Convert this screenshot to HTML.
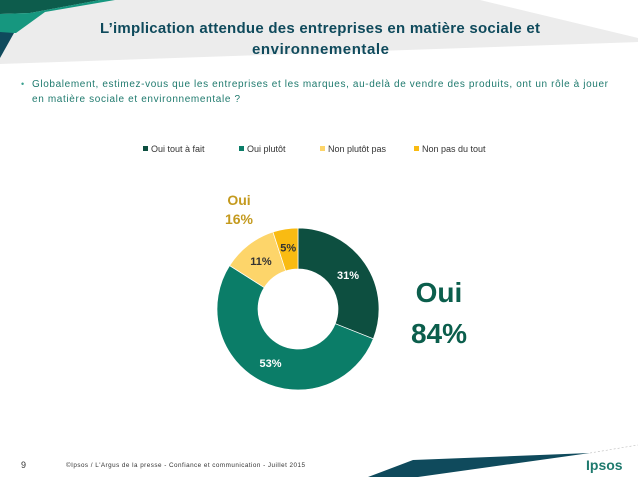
<!DOCTYPE html>
<html><head><meta charset="utf-8"><style>
body{margin:0;width:638px;height:479px;overflow:hidden;background:#fff;font-family:"Liberation Sans",sans-serif;}
</style></head><body>
<svg width="638" height="479" xmlns="http://www.w3.org/2000/svg">
<polygon points="0,0 480,0 638,38 638,42 0,64" fill="#ececec"/>
<polygon points="0,0 100,0 30,13 0,14" fill="#0d5c4c"/>
<polygon points="0,14 30,13 100,0 115,0 45,12 16,33 0,33" fill="#16977f"/>
<polygon points="0,32 14,33 0,58" fill="#0f4a5c"/>
<text x="100" y="33" font-size="15" font-weight="bold" fill="#0f4a5c" textLength="440">L’implication attendue des entreprises en matière sociale et</text>
<text x="252" y="54" font-size="15" font-weight="bold" fill="#0f4a5c" textLength="137">environnementale</text>
<text x="21" y="87" font-size="9" fill="#3aa08f">•</text>
<text x="32" y="87" font-size="10" fill="#1f7a6e" textLength="576">Globalement, estimez-vous que les entreprises et les marques, au-delà de vendre des produits, ont un rôle à jouer</text>
<text x="32" y="102" font-size="10" fill="#1f7a6e" textLength="208">en matière sociale et environnementale ?</text>
<g id="legend"></g>
<g id="donut"></g>
<text x="239" y="205" text-anchor="middle" font-size="14" font-weight="bold" fill="#c49a1e">Oui</text>
<text x="239" y="224" text-anchor="middle" font-size="14" font-weight="bold" fill="#c49a1e">16%</text>
<text x="439" y="302" text-anchor="middle" font-size="28" font-weight="bold" fill="#0b5e4c">Oui</text>
<text x="439" y="343" text-anchor="middle" font-size="28" font-weight="bold" fill="#0b5e4c">84%</text>
<text x="21" y="468" font-size="9" fill="#333">9</text>
<text x="66" y="467" font-size="6.3" fill="#333" textLength="239">©Ipsos / L'Argus de la presse - Confiance et communication - Juillet 2015</text>
<polygon points="368,477 413,460 590,453 418,477" fill="#0f4a5c"/>
<line x1="590" y1="453" x2="638" y2="445" stroke="#bbb" stroke-dasharray="2,2" stroke-width="0.6"/>
<text x="586" y="470" font-size="14" font-weight="bold" fill="#1f7a6e">Ipsos</text>
</svg>
<script>
const categories=["Oui tout à fait","Oui plutôt","Non plutôt pas","Non pas du tout"];
const values=[31,53,11,5];
const labels=["31%","53%","11%","5%"];
const colors=["#0d4f40","#0b7d68","#fdd56a","#f9bb12"];
const labelColors=["#fff","#fff","#333","#333"];
const NS="http://www.w3.org/2000/svg";
const cx=298,cy=309,R=81,r=40;
const g=document.getElementById('donut');
const total=values.reduce((a,b)=>a+b,0);
let acc=0;
function pt(a,rad){return [cx+rad*Math.sin(a),cy-rad*Math.cos(a)];}
values.forEach((v,i)=>{
 const a0=acc/total*2*Math.PI;acc+=v;const a1=acc/total*2*Math.PI;
 const lg=(a1-a0)>Math.PI?1:0;
 const [x0,y0]=pt(a0,R),[x1,y1]=pt(a1,R),[x2,y2]=pt(a1,r),[x3,y3]=pt(a0,r);
 const p=document.createElementNS(NS,'path');
 p.setAttribute('d',`M${x0},${y0}A${R},${R} 0 ${lg} 1 ${x1},${y1}L${x2},${y2}A${r},${r} 0 ${lg} 0 ${x3},${y3}Z`);
 p.setAttribute('fill',colors[i]);p.setAttribute('stroke','#fff');p.setAttribute('stroke-width','0.7');
 
 
 g.appendChild(p);
 const am=(a0+a1)/2;const [lx,ly]=pt(am,(R+r)/2+ (v<8?2:0));
 const t=document.createElementNS(NS,'text');
 t.setAttribute('x',lx);t.setAttribute('y',ly+4);t.setAttribute('text-anchor','middle');
 t.setAttribute('font-size','11');t.setAttribute('font-weight','bold');t.setAttribute('fill',labelColors[i]);
 t.textContent=labels[i];
 
 
 g.appendChild(t);
});
const lg=document.getElementById('legend');
const lx=[143,239,320,414];
categories.forEach((c,i)=>{
 const s=document.createElementNS(NS,'rect');
 s.setAttribute('x',lx[i]);s.setAttribute('y',146);s.setAttribute('width',5);s.setAttribute('height',5);s.setAttribute('fill',colors[i]);
 
 
 lg.appendChild(s);
 const t=document.createElementNS(NS,'text');
 t.setAttribute('x',lx[i]+8);t.setAttribute('y',152);t.setAttribute('font-size','9');t.setAttribute('fill','#333');
 t.textContent=c;
 
 
 lg.appendChild(t);
});
</script>
</body></html>
